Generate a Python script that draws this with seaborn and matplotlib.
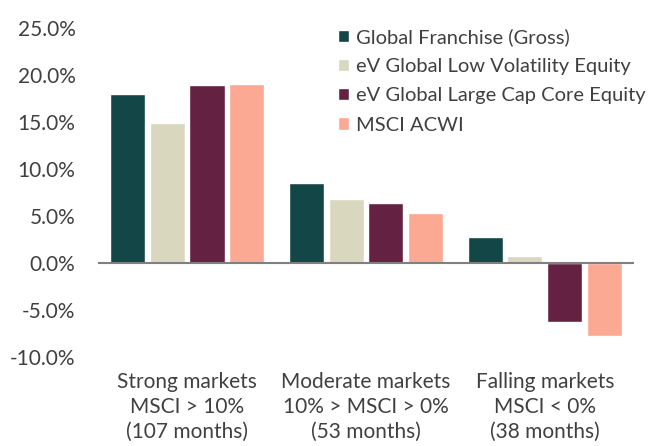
import pandas as pd
import seaborn as sns
import matplotlib.pyplot as plt
from matplotlib.ticker import FuncFormatter

# Data
markets = ['Strong markets\nMSCI > 10%\n(107 months)',
           'Moderate markets\n10% > MSCI > 0%\n(53 months)',
           'Falling markets\nMSCI < 0%\n(38 months)']
series = ['Global Franchise (Gross)', 'eV Global Low Volatility Equity',
          'eV Global Large Cap Core Equity', 'MSCI ACWI']
global_franchise = [18.0, 8.5, 2.8]
ev_low_vol = [14.9, 6.8, 0.7]
ev_large_cap = [18.9, 6.4, -6.3]
msci_acwi = [19.1, 5.3, -7.8]
colors = ['#134747', '#D9D8BF', '#652142', '#FCA993']

df = pd.DataFrame({
    'Market': markets * 4,
    'Series': [s for s in series for _ in markets],
    'Return': global_franchise + ev_low_vol + ev_large_cap + msci_acwi,
})

sns.set_theme(style='white')
plt.rcParams['font.family'] = ['Lato', 'DejaVu Sans']
text_color = '#404040'

fig, ax = plt.subplots(figsize=(6.6, 4.46), dpi=100)
fig.subplots_adjust(left=0.148, right=0.961, top=0.937, bottom=0.2)

sns.barplot(data=df, x='Market', y='Return', hue='Series', palette=colors,
            width=0.89, gap=0.12, saturation=1, ax=ax)

ax.set_ylim(-10, 25)
ax.set_xlim(-0.5, 2.5)
ax.set_yticks([-10, -5, 0, 5, 10, 15, 20, 25])
ax.yaxis.set_major_formatter(FuncFormatter(lambda v, p: f'{v:.1f}%'))
ax.axhline(0, color='#808080', linewidth=1.5)
for s in ax.spines.values():
    s.set_visible(False)
ax.tick_params(axis='both', length=0, labelsize=15, labelcolor=text_color)
ax.tick_params(axis='y', pad=16)
ax.tick_params(axis='x', pad=11)
for lbl in ax.get_xticklabels():
    lbl.set_linespacing(1.3)
ax.set_xlabel('')
ax.set_ylabel('')

leg = ax.legend(loc='upper left', bbox_to_anchor=(0.432, 1.025), frameon=False,
                fontsize=14.5, handlelength=0.57, handleheight=0.57,
                handletextpad=0.35, labelspacing=0.61, borderaxespad=0)
for t in leg.get_texts():
    t.set_color(text_color)

plt.savefig('out.png', dpi=100)
